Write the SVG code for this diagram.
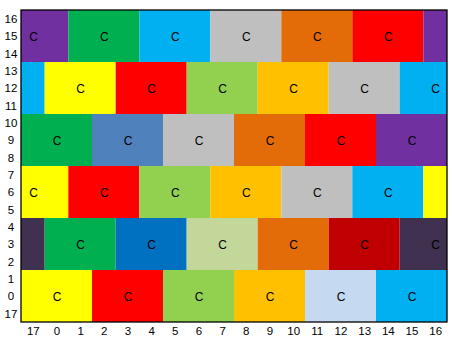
<svg xmlns="http://www.w3.org/2000/svg" width="452" height="342" viewBox="0 0 452 342">
<style>
text{font-family:"Liberation Sans",Arial,sans-serif;fill:#000}
.ax{font-size:11.5px;text-anchor:middle}
.c{font-size:12px;text-anchor:middle}
.pu{fill:#7030A0}.gr{fill:#00B050}.lb{fill:#00B0F0}.gy{fill:#BFBFBF}.or{fill:#E36C09}.rd{fill:#FF0000}
.ye{fill:#FFFF00}.lg{fill:#92D050}.go{fill:#FFC000}.sb{fill:#4F81BD}.bl{fill:#0070C0}.ol{fill:#C4D79B}
.dr{fill:#C00000}.dp{fill:#403151}.ls{fill:#C5D9F1}
</style>
<rect width="452" height="342" fill="#fff"/>
<g id="band1">
<rect class="pu" x="21" y="10" width="47.33" height="52"/><text class="c" x="33.5" y="40.5">C</text>
<rect class="gr" x="68.33" y="10" width="71" height="52"/><text class="c" x="104.3" y="40.5">C</text>
<rect class="lb" x="139.33" y="10" width="71" height="52"/><text class="c" x="175.3" y="40.5">C</text>
<rect class="gy" x="210.33" y="10" width="71" height="52"/><text class="c" x="246.3" y="40.5">C</text>
<rect class="or" x="281.33" y="10" width="71" height="52"/><text class="c" x="317.3" y="40.5">C</text>
<rect class="rd" x="352.33" y="10" width="71" height="52"/><text class="c" x="388.3" y="40.5">C</text>
<rect class="pu" x="423.33" y="10" width="23.67" height="52"/>
</g>
<g id="band2">
<rect class="lb" x="21" y="62" width="23.67" height="52"/>
<rect class="ye" x="44.67" y="62" width="71" height="52"/><text class="c" x="80.7" y="92.5">C</text>
<rect class="rd" x="115.67" y="62" width="71" height="52"/><text class="c" x="151.7" y="92.5">C</text>
<rect class="lg" x="186.67" y="62" width="71" height="52"/><text class="c" x="222.7" y="92.5">C</text>
<rect class="go" x="257.67" y="62" width="71" height="52"/><text class="c" x="293.7" y="92.5">C</text>
<rect class="gy" x="328.67" y="62" width="71" height="52"/><text class="c" x="364.7" y="92.5">C</text>
<rect class="lb" x="399.67" y="62" width="47.33" height="52"/><text class="c" x="435.7" y="92.5">C</text>
</g>
<g id="band3">
<rect class="gr" x="21" y="114" width="71" height="52"/><text class="c" x="57" y="144.5">C</text>
<rect class="sb" x="92" y="114" width="71" height="52"/><text class="c" x="128" y="144.5">C</text>
<rect class="gy" x="163" y="114" width="71" height="52"/><text class="c" x="199" y="144.5">C</text>
<rect class="or" x="234" y="114" width="71" height="52"/><text class="c" x="270" y="144.5">C</text>
<rect class="rd" x="305" y="114" width="71" height="52"/><text class="c" x="341" y="144.5">C</text>
<rect class="pu" x="376" y="114" width="71" height="52"/><text class="c" x="412" y="144.5">C</text>
</g>
<g id="band4">
<rect class="ye" x="21" y="166" width="47.33" height="52"/><text class="c" x="33.5" y="196.5">C</text>
<rect class="rd" x="68.33" y="166" width="71" height="52"/><text class="c" x="104.3" y="196.5">C</text>
<rect class="lg" x="139.33" y="166" width="71" height="52"/><text class="c" x="175.3" y="196.5">C</text>
<rect class="go" x="210.33" y="166" width="71" height="52"/><text class="c" x="246.3" y="196.5">C</text>
<rect class="gy" x="281.33" y="166" width="71" height="52"/><text class="c" x="317.3" y="196.5">C</text>
<rect class="lb" x="352.33" y="166" width="71" height="52"/><text class="c" x="388.3" y="196.5">C</text>
<rect class="ye" x="423.33" y="166" width="23.67" height="52"/>
</g>
<g id="band5">
<rect class="dp" x="21" y="218" width="23.67" height="52"/>
<rect class="gr" x="44.67" y="218" width="71" height="52"/><text class="c" x="80.7" y="248.5">C</text>
<rect class="bl" x="115.67" y="218" width="71" height="52"/><text class="c" x="151.7" y="248.5">C</text>
<rect class="ol" x="186.67" y="218" width="71" height="52"/><text class="c" x="222.7" y="248.5">C</text>
<rect class="or" x="257.67" y="218" width="71" height="52"/><text class="c" x="293.7" y="248.5">C</text>
<rect class="dr" x="328.67" y="218" width="71" height="52"/><text class="c" x="364.7" y="248.5">C</text>
<rect class="dp" x="399.67" y="218" width="47.33" height="52"/><text class="c" x="435.7" y="248.5">C</text>
</g>
<g id="band6">
<rect class="ye" x="21" y="270" width="71" height="52"/><text class="c" x="57" y="300.5">C</text>
<rect class="rd" x="92" y="270" width="71" height="52"/><text class="c" x="128" y="300.5">C</text>
<rect class="lg" x="163" y="270" width="71" height="52"/><text class="c" x="199" y="300.5">C</text>
<rect class="go" x="234" y="270" width="71" height="52"/><text class="c" x="270" y="300.5">C</text>
<rect class="ls" x="305" y="270" width="71" height="52"/><text class="c" x="341" y="300.5">C</text>
<rect class="lb" x="376" y="270" width="71" height="52"/><text class="c" x="412" y="300.5">C</text>
</g>
<g id="frame">
<rect x="21" y="10" width="426" height="312" fill="none" stroke="#000" stroke-width="1.3"/>
</g>
<g id="yaxis">
<text class="ax" x="11" y="23">16</text>
<text class="ax" x="11" y="40">15</text>
<text class="ax" x="11" y="57.5">14</text>
<text class="ax" x="11" y="75">13</text>
<text class="ax" x="11" y="92">12</text>
<text class="ax" x="11" y="109.5">11</text>
<text class="ax" x="11" y="127">10</text>
<text class="ax" x="11" y="144">9</text>
<text class="ax" x="11" y="161.5">8</text>
<text class="ax" x="11" y="179">7</text>
<text class="ax" x="11" y="196">6</text>
<text class="ax" x="11" y="213.5">5</text>
<text class="ax" x="11" y="231">4</text>
<text class="ax" x="11" y="248">3</text>
<text class="ax" x="11" y="265.5">2</text>
<text class="ax" x="11" y="283">1</text>
<text class="ax" x="11" y="300">0</text>
<text class="ax" x="11" y="317.5">17</text>
</g>
<g id="xaxis">
<text class="ax" x="33.3" y="335">17</text>
<text class="ax" x="57" y="335">0</text>
<text class="ax" x="80.7" y="335">1</text>
<text class="ax" x="104.3" y="335">2</text>
<text class="ax" x="128" y="335">3</text>
<text class="ax" x="151.7" y="335">4</text>
<text class="ax" x="175.3" y="335">5</text>
<text class="ax" x="199" y="335">6</text>
<text class="ax" x="222.7" y="335">7</text>
<text class="ax" x="246.3" y="335">8</text>
<text class="ax" x="270" y="335">9</text>
<text class="ax" x="293.7" y="335">10</text>
<text class="ax" x="317.3" y="335">11</text>
<text class="ax" x="341" y="335">12</text>
<text class="ax" x="364.7" y="335">13</text>
<text class="ax" x="388.3" y="335">14</text>
<text class="ax" x="412" y="335">15</text>
<text class="ax" x="435.7" y="335">16</text>
</g>
</svg>
